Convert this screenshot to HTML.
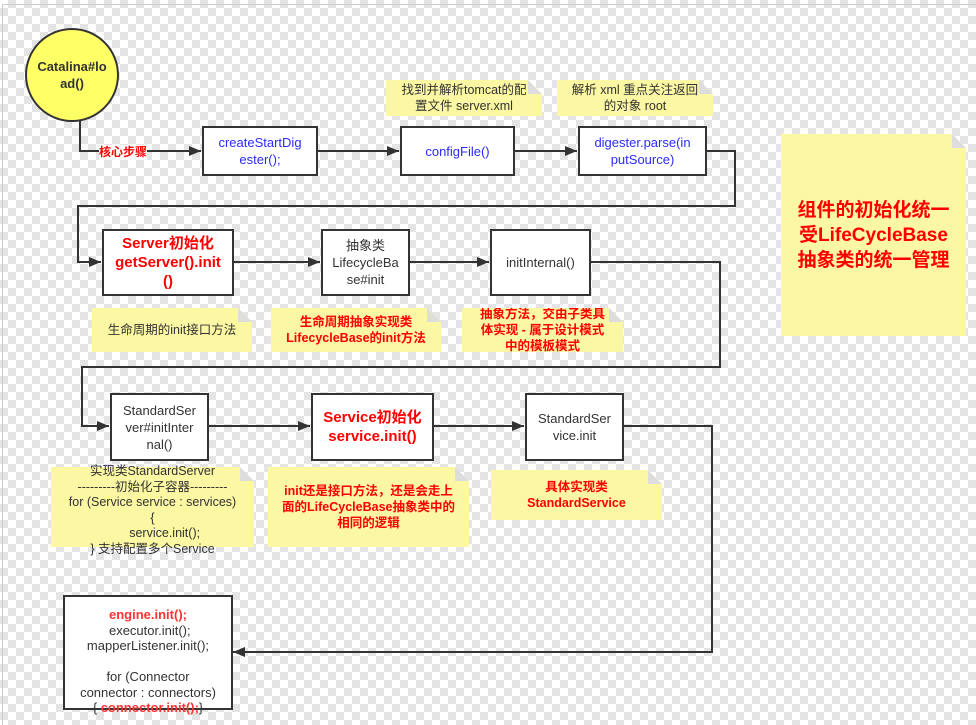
<!DOCTYPE html>
<html><head><meta charset="utf-8"><style>
body{margin:0;width:976px;height:725px;overflow:hidden;position:relative;
background-color:#fff;
background-image:linear-gradient(45deg,#e4e4e4 25%,transparent 25%,transparent 75%,#e4e4e4 75%),linear-gradient(45deg,#e4e4e4 25%,transparent 25%,transparent 75%,#e4e4e4 75%);
background-size:16px 16px;background-position:0 0,8px 8px;
font-family:"Liberation Sans","Noto Sans CJK SC",sans-serif;}
.b{position:absolute;box-sizing:border-box;border:2px solid #333;background:#fff;display:flex;align-items:center;justify-content:center;text-align:center;font-size:13px;line-height:17px;color:#333}
.n{position:absolute;box-sizing:border-box;background:#fbf7a3;display:flex;align-items:center;justify-content:center;text-align:center;font-size:12.5px;line-height:16px;color:#333;
clip-path:polygon(0 0,calc(100% - 14px) 0,100% 14px,100% 100%,0 100%)}
.n::after{content:"";position:absolute;right:0;top:0;width:14px;height:14px;background:linear-gradient(225deg,transparent 50%,#ddd 50%)}
.blue{color:#2b2bff}
.red{color:#f00;font-weight:bold}
svg{position:absolute;left:0;top:0}
</style></head><body>
<div style="position:absolute;left:2px;top:4px;right:0;bottom:0;border-left:1px solid #ccc;border-top:1px solid #ccc"></div>
<svg width="976" height="725">
<defs><marker id="a" markerWidth="12" markerHeight="10" refX="12" refY="5" orient="auto" markerUnits="userSpaceOnUse"><path d="M0,0L12,5L0,10z" fill="#333"/></marker></defs>
<g stroke="#333" stroke-width="2" fill="none">
<polyline points="80,120 80,151 201,151" marker-end="url(#a)"/>
<line x1="317" y1="151" x2="399" y2="151" marker-end="url(#a)"/>
<line x1="514" y1="151" x2="577" y2="151" marker-end="url(#a)"/>
<polyline points="706,151 735,151 735,206 78,206 78,262 101,262" marker-end="url(#a)"/>
<line x1="233" y1="262" x2="320" y2="262" marker-end="url(#a)"/>
<line x1="409" y1="262" x2="489" y2="262" marker-end="url(#a)"/>
<polyline points="590,262 720,262 720,367 82,367 82,426 109,426" marker-end="url(#a)"/>
<line x1="208" y1="426" x2="310" y2="426" marker-end="url(#a)"/>
<line x1="433" y1="426" x2="524" y2="426" marker-end="url(#a)"/>
<polyline points="623,426 712,426 712,652 233,652" marker-end="url(#a)"/>
</g>
<circle cx="72" cy="75" r="46" fill="#ffff66" stroke="#333" stroke-width="2"/>
</svg>
<div style="position:absolute;left:26px;top:58px;width:92px;text-align:center;font-weight:bold;font-size:13px;line-height:17px;color:#333">Catalina#lo<br>ad()</div>
<div style="position:absolute;left:99px;top:145px;background:#fff;color:#f00;font-weight:bold;font-size:12px;line-height:15px">核心步骤</div>
<div class="b blue" style="left:202px;top:126px;width:116px;height:50px">createStartDig<br>ester();</div>
<div class="b blue" style="left:400px;top:126px;width:115px;height:50px">configFile()</div>
<div class="b blue" style="left:578px;top:126px;width:129px;height:50px">digester.parse(in<br>putSource)</div>
<div class="n" style="left:386px;top:80px;width:156px;height:36px">找到并解析tomcat的配<br>置文件 server.xml</div>
<div class="n" style="left:557px;top:80px;width:156px;height:36px">解析 xml 重点关注返回<br>的对象 root</div>
<div class="n red" style="left:781px;top:134px;width:185px;height:202px;font-size:19px;line-height:25px">组件的初始化统一<br>受LifeCycleBase<br>抽象类的统一管理</div>
<div class="b red" style="left:102px;top:229px;width:132px;height:67px;font-size:15px;line-height:19px">Server初始化<br>getServer().init<br>()</div>
<div class="b" style="left:321px;top:229px;width:89px;height:67px">抽象类<br>LifecycleBa<br>se#init</div>
<div class="b" style="left:490px;top:229px;width:101px;height:67px">initInternal()</div>
<div class="n" style="left:92px;top:308px;width:160px;height:44px">生命周期的init接口方法</div>
<div class="n red" style="left:271px;top:308px;width:170px;height:44px">生命周期抽象实现类<br>LifecycleBase的init方法</div>
<div class="n red" style="left:462px;top:308px;width:161px;height:44px">抽象方法，交由子类具<br>体实现 - 属于设计模式<br>中的模板模式</div>
<div class="b" style="left:110px;top:393px;width:99px;height:68px">StandardSer<br>ver#initInter<br>nal()</div>
<div class="b red" style="left:311px;top:393px;width:123px;height:68px;font-size:15px;line-height:19px">Service初始化<br>service.init()</div>
<div class="b" style="left:525px;top:393px;width:99px;height:68px">StandardSer<br>vice.init</div>
<div class="n" style="left:51px;top:467px;width:203px;height:80px;display:block"></div>
<div style="position:absolute;left:51px;top:464px;width:203px;text-align:center;font-size:12.5px;line-height:15.5px;color:#333">实现类StandardServer<br>---------初始化子容器---------<br>for (Service service : services)<br>{<br>&nbsp;&nbsp;&nbsp;&nbsp;&nbsp;&nbsp;&nbsp;service.init();<br>} 支持配置多个Service</div>
<div class="n red" style="left:268px;top:467px;width:201px;height:80px">init还是接口方法，还是会走上<br>面的LifeCycleBase抽象类中的<br>相同的逻辑</div>
<div class="n red" style="left:491px;top:470px;width:171px;height:50px">具体实现类<br>StandardService</div>
<div class="b" style="left:63px;top:595px;width:170px;height:115px;align-items:flex-start;padding-top:10px;line-height:15.5px">
<div><span class="red" style="color:#f33">engine.init();</span><br>&nbsp;executor.init();<br>mapperListener.init();<br><br>for (Connector<br>connector : connectors)<br>{ <span class="red" style="color:#f33">connector.init();</span>}</div></div>
</body></html>
